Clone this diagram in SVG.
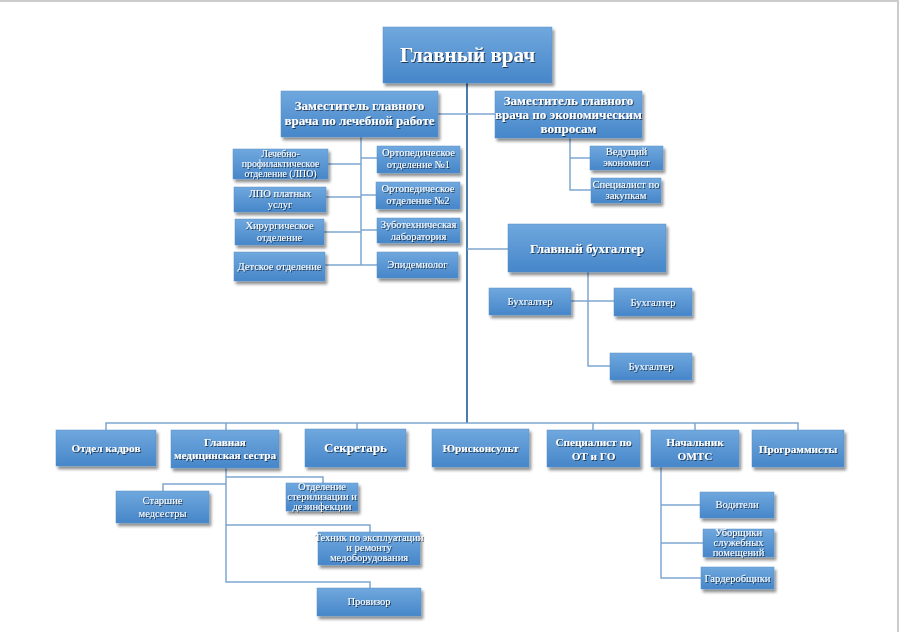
<svg xmlns="http://www.w3.org/2000/svg" width="900" height="632" viewBox="0 0 900 632">
<defs>
<linearGradient id="g" x1="0" y1="0" x2="0" y2="1">
<stop offset="0" stop-color="#70a8de"/>
<stop offset="1" stop-color="#4686c9"/>
</linearGradient>
<filter id="sh" x="-10%" y="-20%" width="125%" height="150%">
<feGaussianBlur in="SourceAlpha" stdDeviation="1.5"/>
<feOffset dx="1.5" dy="2.5" result="b"/>
<feComponentTransfer><feFuncA type="linear" slope="0.45"/></feComponentTransfer>
<feMerge><feMergeNode/><feMergeNode in="SourceGraphic"/></feMerge>
</filter>
<filter id="ts" x="-5%" y="-20%" width="110%" height="150%">
<feGaussianBlur in="SourceAlpha" stdDeviation="0.6"/>
<feOffset dx="0.8" dy="0.8"/>
<feComponentTransfer><feFuncA type="linear" slope="0.6"/></feComponentTransfer>
<feMerge><feMergeNode/><feMergeNode in="SourceGraphic"/></feMerge>
</filter>
</defs>
<style>
.b{fill:url(#g);stroke:#5a90c8;stroke-width:0.5;filter:url(#sh)}
text{font-family:"Liberation Serif","Times New Roman",serif;fill:#ffffff;text-anchor:middle;filter:url(#ts)}
.h{font-weight:bold}
.t1{font-size:21px}
.t2{font-size:13px}
.t3{font-size:13px}
.t4{font-size:11.2px}
.s{font-size:10.5px}
.xs{font-size:9.8px}
.l{fill:none;stroke:#7fa6cf;stroke-width:1.5}
.m{fill:none;stroke:#4a7cb0;stroke-width:2}
</style>
<rect x="0" y="0" width="900" height="632" fill="#ffffff"/>
<line x1="0" y1="1" x2="898" y2="1" stroke="#cccccc" stroke-width="2"/>
<line x1="898" y1="0" x2="898" y2="632" stroke="#cccccc" stroke-width="2"/>
<g id="connectors">
<path class="m" d="M467 83 V423"/>
<path class="l" d="M438 114 H495"/>
<path class="l" d="M361 137 V265 M328 164 H361 M326 197 H361 M324 232 H361 M325 265 H377 M361 158 H377 M361 195 H376 M361 230 H377"/>
<path class="l" d="M570 138 V190 H591 M570 158 H590"/>
<path class="l" d="M467 249 H508"/>
<path class="l" d="M588 272 V366 H610 M571 301 H614"/>
<path class="l" d="M106 430 V423 H798 V430 M226 423 V430 M357 423 V429 M593 423 V430 M695 423 V430"/>
<path class="l" d="M226 468 V582 H370 V588 M226 477 H323 V483 M226 484 H163 V491 M226 525 H370 V532"/>
<path class="l" d="M661 467 V578 H701 M661 505 H700 M661 543 H703"/>
</g>
<g id="n-glavvrach"><rect class="b" x="383" y="27" width="169" height="56"/><text class="h t1" x="467.5" y="62">Главный врач</text></g>
<g id="n-zam-lech"><rect class="b" x="281" y="91" width="157" height="46"/><text class="h t2" x="359.5" y="110">Заместитель главного</text><text class="h t2" x="359.5" y="125">врача по лечебной работе</text></g>
<g id="n-zam-econ"><rect class="b" x="495" y="91" width="147" height="47"/><text class="h t2" x="568.5" y="105">Заместитель главного</text><text class="h t2" x="568.5" y="119">врача по экономическим</text><text class="h t2" x="568.5" y="133">вопросам</text></g>
<g id="n-lpo"><rect class="b" x="233" y="149" width="95" height="30"/><text class="xs" x="280.5" y="157">Лечебно-</text><text class="xs" x="280.5" y="167">профилактическое</text><text class="xs" x="280.5" y="177">отделение (ЛПО)</text></g>
<g id="n-lpo-plat"><rect class="b" x="234" y="187" width="92" height="25"/><text class="s" x="280" y="197">ЛПО платных</text><text class="s" x="280" y="208">услуг</text></g>
<g id="n-hir"><rect class="b" x="235" y="219" width="89" height="26"/><text class="s" x="279.5" y="229">Хирургическое</text><text class="s" x="279.5" y="241">отделение</text></g>
<g id="n-det"><rect class="b" x="234" y="252" width="91" height="29"/><text class="s" x="279.5" y="270">Детское отделение</text></g>
<g id="n-ort1"><rect class="b" x="377" y="146" width="83" height="27"/><text class="s" x="418.5" y="156">Ортопедическое</text><text class="s" x="418.5" y="168">отделение №1</text></g>
<g id="n-ort2"><rect class="b" x="376" y="182" width="84" height="27"/><text class="s" x="418" y="192">Ортопедическое</text><text class="s" x="418" y="204">отделение №2</text></g>
<g id="n-zubo"><rect class="b" x="377" y="218" width="83" height="25"/><text class="s" x="418.5" y="228">Зуботехническая</text><text class="s" x="418.5" y="240">лаборатория</text></g>
<g id="n-epid"><rect class="b" x="377" y="252" width="81" height="26"/><text class="s" x="417.5" y="268">Эпидемиолог</text></g>
<g id="n-ved"><rect class="b" x="590" y="146" width="73" height="24"/><text class="s" x="626.5" y="155">Ведущий</text><text class="s" x="626.5" y="166">экономист</text></g>
<g id="n-zak"><rect class="b" x="591" y="178" width="70" height="25"/><text class="s" x="626" y="188">Специалист по</text><text class="s" x="626" y="199">закупкам</text></g>
<g id="n-glavbuh"><rect class="b" x="508" y="224" width="158" height="48"/><text class="h t3" x="587" y="253">Главный бухгалтер</text></g>
<g id="n-buh1"><rect class="b" x="489" y="288" width="82" height="27"/><text class="s" x="530" y="305">Бухгалтер</text></g>
<g id="n-buh2"><rect class="b" x="614" y="288" width="78" height="28"/><text class="s" x="653" y="306">Бухгалтер</text></g>
<g id="n-buh3"><rect class="b" x="610" y="353" width="82" height="27"/><text class="s" x="651" y="370">Бухгалтер</text></g>
<g id="n-kadr"><rect class="b" x="56" y="430" width="100" height="36"/><text class="h t4" x="106" y="452">Отдел кадров</text></g>
<g id="n-gms"><rect class="b" x="171" y="430" width="108" height="38"/><text class="h t4" x="225" y="446">Главная</text><text class="h t4" x="225" y="459">медицинская сестра</text></g>
<g id="n-sekr"><rect class="b" x="305" y="429" width="101" height="38"/><text class="h t3" x="355.5" y="452">Секретарь</text></g>
<g id="n-yur"><rect class="b" x="432" y="429" width="97" height="38"/><text class="h t4" x="480.5" y="452">Юрисконсульт</text></g>
<g id="n-ot"><rect class="b" x="547" y="430" width="93" height="37"/><text class="h t4" x="593.5" y="446">Специалист по</text><text class="h t4" x="593.5" y="460">ОТ и ГО</text></g>
<g id="n-omts"><rect class="b" x="651" y="430" width="88" height="37"/><text class="h t4" x="695" y="446">Начальник</text><text class="h t4" x="695" y="460">ОМТС</text></g>
<g id="n-prog"><rect class="b" x="752" y="430" width="92" height="37"/><text class="h t4" x="798" y="453">Программисты</text></g>
<g id="n-star"><rect class="b" x="116" y="491" width="93" height="32"/><text class="s" x="162.5" y="504">Старшие</text><text class="s" x="162.5" y="517">медсестры</text></g>
<g id="n-steril"><rect class="b" x="286" y="483" width="72" height="28"/><text class="s" x="322" y="490">Отделение</text><text class="s" x="322" y="500">стерилизации и</text><text class="s" x="322" y="510">дезинфекции</text></g>
<g id="n-tehn"><rect class="b" x="318" y="532" width="102" height="33"/><text class="s" x="369" y="541">Техник по эксплуатации</text><text class="s" x="369" y="551">и ремонту</text><text class="s" x="369" y="561">медоборудования</text></g>
<g id="n-prov"><rect class="b" x="317" y="588" width="104" height="28"/><text class="s" x="369" y="605">Провизор</text></g>
<g id="n-vod"><rect class="b" x="700" y="492" width="74" height="26"/><text class="s" x="737" y="508">Водители</text></g>
<g id="n-ubor"><rect class="b" x="703" y="529" width="71" height="28"/><text class="s" x="738.5" y="536">Уборщики</text><text class="s" x="738.5" y="546">служебных</text><text class="s" x="738.5" y="556">помещений</text></g>
<g id="n-gard"><rect class="b" x="701" y="567" width="73" height="22"/><text class="s" x="737.5" y="582">Гардеробщики</text></g>
</svg>
